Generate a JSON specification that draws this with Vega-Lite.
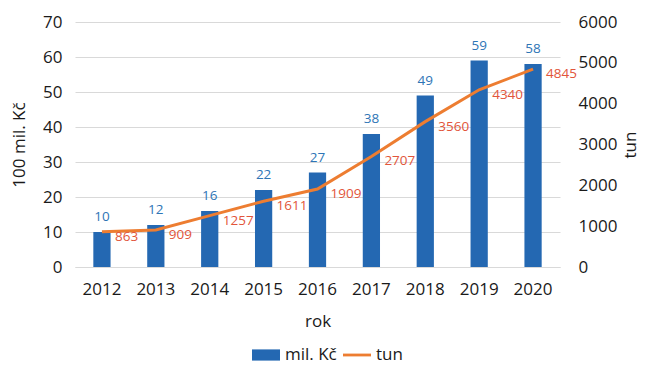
{
  "$schema": "https://vega.github.io/schema/vega-lite/v6.json",
  "width": 485,
  "height": 245,
  "autosize": {"type": "none"},
  "padding": {"left": 75, "top": 22, "right": 85, "bottom": 100},
  "background": "#ffffff",
  "config": {
    "font": "Open Sans",
    "view": {"stroke": null},
    "axis": {
      "labelFont": "Open Sans",
      "titleFont": "Open Sans",
      "labelFontSize": 17,
      "titleFontSize": 17,
      "titleFontWeight": "normal",
      "labelColor": "#1a1a1a",
      "titleColor": "#1a1a1a",
      "labelOverlap": false,
      "domain": false,
      "ticks": false,
      "gridColor": "#d9d9d9",
      "gridWidth": 1.2
    },
    "legend": {
      "labelFont": "Open Sans",
      "labelFontSize": 17,
      "labelColor": "#1a1a1a"
    }
  },
  "data": {
    "values": [
      {"rok": "2012", "kc": 10, "tun": 863},
      {"rok": "2013", "kc": 12, "tun": 909},
      {"rok": "2014", "kc": 16, "tun": 1257},
      {"rok": "2015", "kc": 22, "tun": 1611},
      {"rok": "2016", "kc": 27, "tun": 1909},
      {"rok": "2017", "kc": 38, "tun": 2707},
      {"rok": "2018", "kc": 49, "tun": 3560},
      {"rok": "2019", "kc": 59, "tun": 4340},
      {"rok": "2020", "kc": 58, "tun": 4845}
    ]
  },
  "encoding": {
    "x": {
      "field": "rok",
      "type": "ordinal",
      "title": "rok",
      "scale": {"paddingInner": 0.68, "paddingOuter": 0.34},
      "axis": {
        "labelAngle": 0,
        "labelPadding": 14,
        "titlePadding": 16,
        "domain": true,
        "domainColor": "#d9d9d9",
        "domainWidth": 1.2
      }
    }
  },
  "layer": [
    {
      "encoding": {
        "y": {
          "field": "kc",
          "type": "quantitative",
          "title": "100 mil. Kč",
          "scale": {"domain": [0, 70], "nice": false},
          "axis": {
            "values": [0, 10, 20, 30, 40, 50, 60, 70],
            "tickCount": 8,
            "labelPadding": 13,
            "titlePadding": 14,
            "grid": true
          }
        }
      },
      "layer": [
        {
          "mark": {"type": "bar", "color": "#2468b2"},
          "encoding": {
            "color": {
              "datum": "mil. Kč",
              "type": "nominal",
              "scale": {"domain": ["mil. Kč", "tun"], "range": ["#2468b2", "#ed7d31"]},
              "legend": {
                "orient": "none",
                "legendX": 177,
                "legendY": 319,
                "direction": "horizontal",
                "title": null,
                "symbolSize": 784,
                "symbolStrokeWidth": 0,
                "labelOffset": 5,
                "columnPadding": 6,
                "encode": {
                  "symbols": {
                    "update": {
                      "shape": {"signal": "datum.value === 'tun' ? 'M-1,-0.1H1V0.1H-1Z' : 'M-1,-0.4H1V0.4H-1Z'"},
                      "fill": {"signal": "datum.value === 'tun' ? '#ed7d31' : '#2468b2'"},
                      "stroke": {"value": "transparent"},
                      "opacity": {"value": 1},
                      "fillOpacity": {"value": 1}
                    }
                  }
                }
              }
            }
          }
        },
        {
          "mark": {"type": "text", "baseline": "bottom", "dy": -8, "fontSize": 13.5, "fontWeight": 500, "color": "#2e75b6"},
          "encoding": {
            "text": {"field": "kc", "type": "quantitative"}
          }
        }
      ]
    },
    {
      "encoding": {
        "y": {
          "field": "tun",
          "type": "quantitative",
          "title": "tun",
          "scale": {"domain": [0, 6000], "nice": false},
          "axis": {
            "orient": "right",
            "values": [0, 1000, 2000, 3000, 4000, 5000, 6000],
            "tickCount": 7,
            "format": "d",
            "labelPadding": 18,
            "titlePadding": 6,
            "titleAngle": -90,
            "titleBaseline": "top",
            "grid": false
          }
        }
      },
      "layer": [
        {
          "mark": {"type": "line", "strokeWidth": 3, "color": "#ed7d31"},
          "encoding": {
            "color": {"datum": "tun", "type": "nominal"}
          }
        },
        {
          "mark": {"type": "text", "align": "left", "baseline": "middle", "dx": 13, "dy": 5, "fontSize": 13.5, "color": "#e2553a"},
          "encoding": {
            "text": {"field": "tun", "type": "quantitative", "format": "d"}
          }
        }
      ]
    }
  ],
  "resolve": {"scale": {"y": "independent"}}
}
